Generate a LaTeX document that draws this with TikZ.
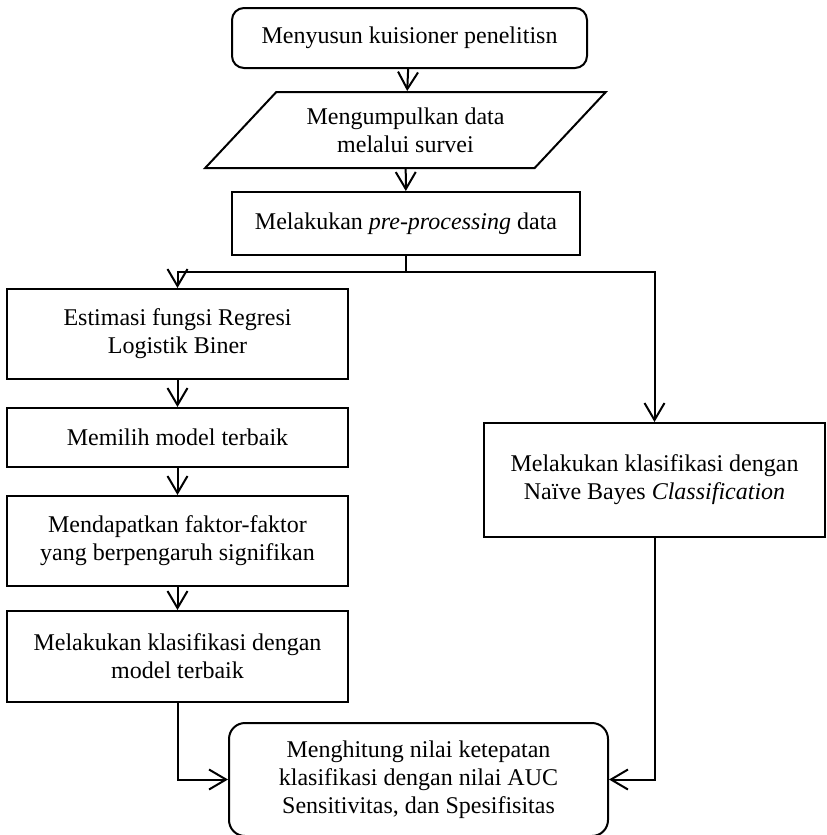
\documentclass[tikz,border=0pt]{standalone}
\usepackage{fontspec}
\setmainfont{Liberation Serif}
\usetikzlibrary{shapes.geometric,arrows.meta}

\begin{document}
\begin{tikzpicture}[x=0.5pt,y=-0.5pt,line width=1pt,
    box/.style={draw, rectangle, align=center, inner sep=2pt,
        font=\fontsize{12}{14}\selectfont},
    roundbox/.style={box, rounded corners=#1},
    databox/.style={box, trapezium, trapezium left angle=43,
        trapezium right angle=137, trapezium stretches=true},
    arr/.style={-{Straight Barb[length=8.5pt,width=10pt,line width=1pt]}}]
    \useasboundingbox (0,0) rectangle (826,835);

    % Main column
    \node[roundbox=6pt, minimum width=177.5pt, minimum height=30pt] (susun) at (409.5,38) {Menyusun kuisioner penelitisn};
    \node[databox, minimum width=200.5pt, minimum height=38pt] (survei) at (405.5,130) {Mengumpulkan data\\melalui survei};
    \node[box, minimum width=174pt, minimum height=31.5pt] (prepro) at (406,223.5) {Melakukan \textit{pre-processing} data};
    \coordinate (cabang) at (406,272);

    % Left branch: regresi logistik
    \node[box, minimum width=170.5pt, minimum height=45pt] (estimasi) at (177.5,334) {Estimasi fungsi Regresi\\Logistik Biner};
    \node[box, minimum width=170.5pt, minimum height=29.5pt] (pilih) at (177.5,437.5) {Memilih model terbaik};
    \node[box, minimum width=170.5pt, minimum height=45pt] (faktor) at (177.5,541) {Mendapatkan faktor-faktor\\yang berpengaruh signifikan};
    \node[box, minimum width=170.5pt, minimum height=45.5pt] (klasreg) at (177.5,656.5) {Melakukan klasifikasi dengan\\model terbaik};

    % Right branch: naive bayes
    \node[box, minimum width=170.5pt, minimum height=57pt] (klasnb) at (654.5,480) {Melakukan klasifikasi dengan\\Naïve Bayes \textit{Classification}};

    % Final step
    \node[roundbox=8pt, minimum width=189.5pt, minimum height=56.5pt] (hitung) at (418.5,779.5) {Menghitung nilai ketepatan\\klasifikasi dengan nilai AUC\\Sensitivitas, dan Spesifisitas};

    % Arrows
    \draw[arr] (susun) -- (survei);
    \draw[arr] (survei) -- (prepro);
    \draw (prepro) -- (cabang);
    \draw[arr] (cabang) -| (estimasi);
    \draw[arr] (cabang) -| (klasnb);
    \draw[arr] (estimasi) -- (pilih);
    \draw[arr] (pilih) -- (faktor);
    \draw[arr] (faktor) -- (klasreg);
    \draw[arr] (klasreg) |- (hitung);
    \draw[arr] (klasnb) |- (hitung);
\end{tikzpicture}
\end{document}
